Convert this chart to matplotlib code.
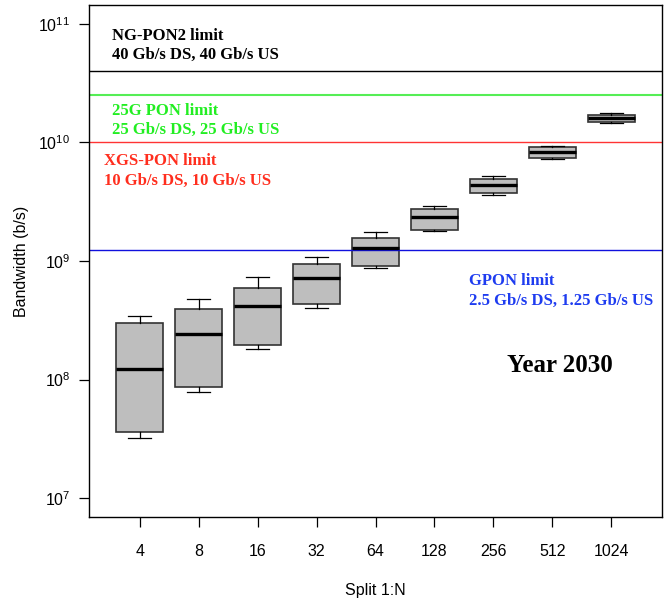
import numpy as np
import matplotlib
matplotlib.use("Agg")
import matplotlib.pyplot as plt

plt.rcParams['font.family'] = ['Liberation Sans', 'DejaVu Sans']
plt.rcParams['mathtext.fontset'] = 'custom'
plt.rcParams['mathtext.rm'] = 'Liberation Sans'
plt.rcParams['mathtext.it'] = 'Liberation Sans'

# split ratios and box statistics (b/s)
splits = ['4', '8', '16', '32', '64', '128', '256', '512', '1024']
whis_lo = [3.23e7, 7.8e7, 1.81e8, 4.0e8, 8.73e8, 1.79e9, 3.6e9, 7.26e9, 1.46e10]
q1 = [3.58e7, 8.6e7, 1.97e8, 4.3e8, 9.07e8, 1.84e9, 3.72e9, 7.44e9, 1.49e10]
med = [1.23e8, 2.4e8, 4.2e8, 7.15e8, 1.28e9, 2.34e9, 4.4e9, 8.36e9, 1.62e10]
q3 = [3.0e8, 3.9e8, 5.88e8, 9.4e8, 1.56e9, 2.73e9, 4.88e9, 9.1e9, 1.71e10]
whis_hi = [3.43e8, 4.78e8, 7.28e8, 1.09e9, 1.76e9, 2.93e9, 5.2e9, 9.4e9, 1.76e10]

# PON technology limits
limits = [4e10, 2.5e10, 1e10, 1.25e9]
limit_colors = ['black', '#55EE55', '#FF3333', '#1010DD']

stats = []
for i in range(len(splits)):
    stats.append(dict(whislo=whis_lo[i], q1=q1[i], med=med[i], q3=q3[i],
                      whishi=whis_hi[i], fliers=[]))

fig = plt.figure(figsize=(6.71, 6.03), dpi=100)
ax = fig.add_axes([89/671, 1 - 517/603, 573/671, 512/603])

ax.bxp(stats, positions=np.arange(1, len(splits) + 1), widths=0.8,
       patch_artist=True, capwidths=0.4,
       boxprops=dict(facecolor='#BEBEBE', edgecolor='#333333', linewidth=1.2),
       medianprops=dict(color='black', linewidth=2.4),
       whiskerprops=dict(color='black', linewidth=0.9),
       capprops=dict(color='black', linewidth=0.9))

for val, c in zip(limits, limit_colors):
    ax.axhline(val, color=c, linewidth=1.0 if c != '#55EE55' else 1.5)

ax.set_yscale('log')
ax.set_ylim(10**6.84, 10**11.16)
ax.set_xlim(0.14, 9.86)
ax.set_yticks([1e7, 1e8, 1e9, 1e10, 1e11])
ax.set_yticklabels([r'$10^{7}$', r'$10^{8}$', r'$10^{9}$', r'$10^{10}$', r'$10^{11}$'])
ax.yaxis.set_minor_locator(matplotlib.ticker.NullLocator())
ax.set_xticks(np.arange(1, len(splits) + 1))
ax.set_xticklabels(splits)
ax.tick_params(axis='both', labelsize=11.5, length=7.5, width=0.9, direction='out')
ax.tick_params(axis='x', pad=12)
ax.tick_params(axis='y', pad=6)

for s in ax.spines.values():
    s.set_linewidth(1.0)

ax.set_xlabel('Split 1:N', fontsize=11.5, labelpad=17)
ax.set_ylabel('Bandwidth (b/s)', fontsize=11.5, labelpad=7)

serif = ['Liberation Serif', 'DejaVu Serif']
tk = dict(transform=ax.transAxes, family=serif, fontweight='bold', fontsize=12,
          va='center', ha='left')
ax.text(0.040, 0.939, 'NG-PON2 limit', color='black', **tk)
ax.text(0.040, 0.902, '40 Gb/s DS, 40 Gb/s US', color='black', **tk)
ax.text(0.040, 0.793, '25G PON limit', color='#22EE22', **tk)
ax.text(0.040, 0.756, '25 Gb/s DS, 25 Gb/s US', color='#22EE22', **tk)
ax.text(0.026, 0.695, 'XGS-PON limit', color='#FF2E1E', **tk)
ax.text(0.026, 0.656, '10 Gb/s DS, 10 Gb/s US', color='#FF2E1E', **tk)
ax.text(0.663, 0.461, 'GPON limit', color='#1E3CF0', **tk)
ax.text(0.663, 0.423, '2.5 Gb/s DS, 1.25 Gb/s US', color='#1E3CF0', **tk)
ax.text(0.822, 0.295, 'Year 2030', transform=ax.transAxes, family=serif,
        fontweight='bold', fontsize=18, va='center', ha='center', color='black')

fig.savefig('out.png', dpi=100)
